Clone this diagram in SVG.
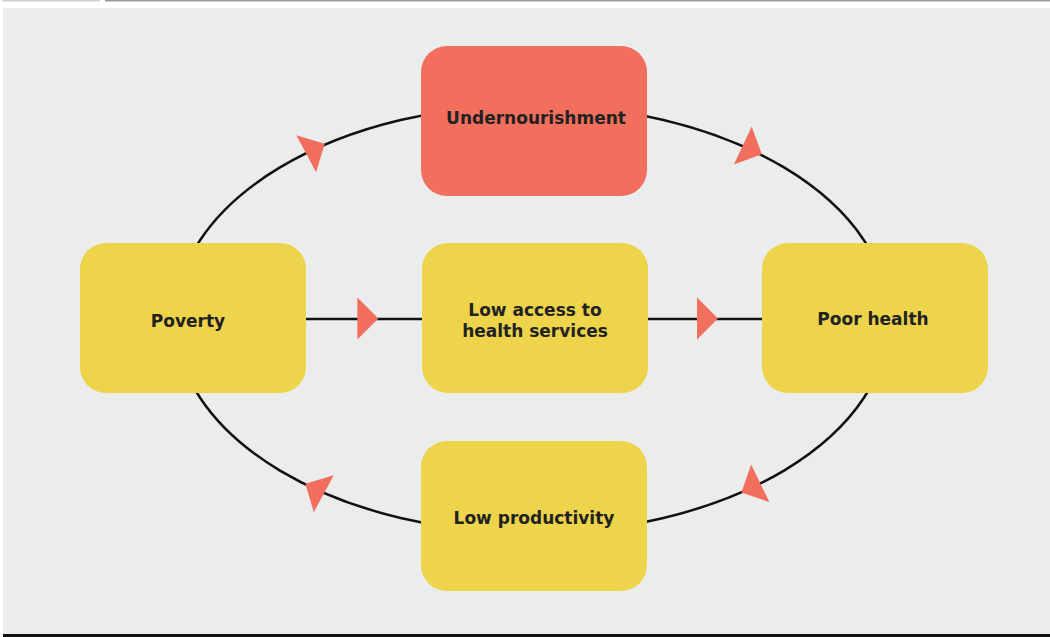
<svg xmlns="http://www.w3.org/2000/svg" width="1050" height="637" viewBox="0 0 1050 637">
<style>
.node{stroke:none}
.y{fill:#EDD44B}
.r{fill:#F26E5D}
.t{font-family:"DejaVu Sans",Verdana,sans-serif;font-weight:bold;font-size:17px;fill:#222222;text-anchor:middle}
.arr{fill:#F26E5D}
</style>
<defs>
<polygon id="tri" points="0,-21 21,0 0,21"/>
</defs>
<rect x="0" y="0" width="1050" height="637" fill="#FFFFFF"/>
<rect x="3" y="8" width="1047" height="627" fill="#EBEDEC"/>
<rect x="2" y="0" width="98" height="1.5" fill="#CFCFCF"/>
<rect x="105" y="0" width="945" height="1.5" fill="#999999"/>
<rect x="3" y="634" width="1047" height="3" fill="#111111"/>
<g id="connectors">
<ellipse cx="532" cy="319" rx="357" ry="214" fill="none" stroke="#111111" stroke-width="2.5"/>
<line x1="306" y1="319" x2="422" y2="319" stroke="#111111" stroke-width="2.5"/>
<line x1="648" y1="319" x2="762" y2="319" stroke="#111111" stroke-width="2.5"/>
<use href="#tri" class="arr" transform="translate(357.3,318.5)"/>
<use href="#tri" class="arr" transform="translate(697,318.5)"/>
<use href="#tri" class="arr" transform="translate(306.2,153.7) rotate(-28.2)"/>
<use href="#tri" class="arr" transform="translate(742.8,145.5) rotate(25)"/>
<use href="#tri" class="arr" transform="translate(760.3,483.3) rotate(154.2)"/>
<use href="#tri" class="arr" transform="translate(323.8,493.7) rotate(208.3)"/>
</g>
<g id="undernourishment">
<rect class="node r" x="421" y="46" width="226" height="150" rx="26"/>
<text class="t" x="536" y="124">Undernourishment</text>
</g>
<g id="poverty">
<rect class="node y" x="80" y="243" width="226" height="150" rx="26"/>
<text class="t" x="188" y="327">Poverty</text>
</g>
<g id="low-access">
<rect class="node y" x="422" y="243" width="226" height="150" rx="26"/>
<text class="t" x="535" y="316">Low access to</text>
<text class="t" x="535" y="337">health services</text>
</g>
<g id="poor-health">
<rect class="node y" x="762" y="243" width="226" height="150" rx="26"/>
<text class="t" x="873" y="325">Poor health</text>
</g>
<g id="low-productivity">
<rect class="node y" x="421" y="441" width="226" height="150" rx="26"/>
<text class="t" x="534" y="524">Low productivity</text>
</g>
</svg>
